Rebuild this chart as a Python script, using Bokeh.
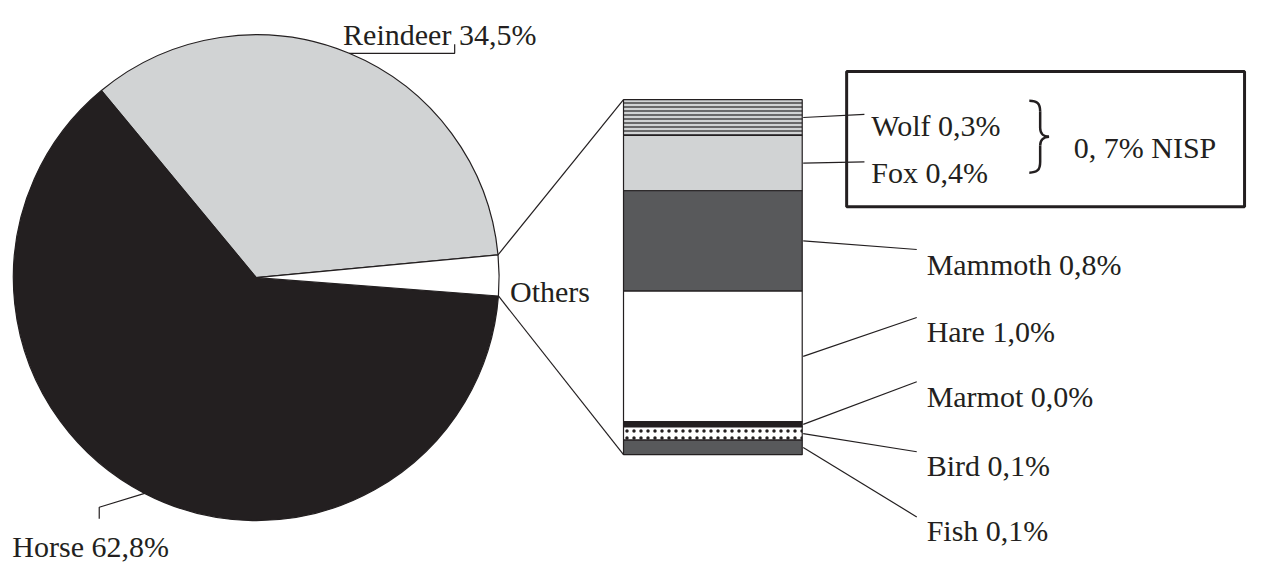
import numpy as np
from bokeh.plotting import figure
from bokeh.models import Range1d, ColumnDataSource
from bokeh.embed import file_html
from bokeh.resources import INLINE
from bokeh.core.properties import value

# ---------------- data ----------------
pie_labels = ["Reindeer", "Horse", "Others"]
pie_values = [34.5, 62.8, 2.7]
pie_texts = ["Reindeer 34,5%", "Horse 62,8%", "Others"]

bar_labels = ["Wolf", "Fox", "Mammoth", "Hare", "Marmot", "Bird", "Fish"]
bar_values = [0.27, 0.42, 0.76, 0.99, 0.04, 0.10, 0.11]
bar_texts = ["Wolf 0,3%", "Fox 0,4%", "Mammoth 0,8%", "Hare 1,0%",
             "Marmot 0,0%", "Bird 0,1%", "Fish 0,1%"]
group_text = "0, 7% NISP"

# ---------------- styles ----------------
INK = "#231f20"
FONT = value("Liberation Serif")
FS = "30px"
pie_colors = ["#d1d3d4", INK, "#ffffff"]
bar_colors = ["#d1d3d4", "#d1d3d4", "#58595b", "#ffffff", INK, "#ffffff", "#58595b"]
bar_hatch = ["horizontal_line", " ", " ", " ", " ", "dot", " "]
bar_hscale = [4, 1, 1, 1, 1, 7, 1]
bar_hweight = [1.6, 1, 1, 1, 1, 2.2, 1]
bar_hcolor = ["#4d4d4f", INK, INK, INK, INK, INK, INK]

W, H = 1248, 567
RW, RH = 1264, 583  # layout coordinate space


def Y(ys):
    """layout y (from top) -> data y"""
    return RH - ys


p = figure(width=W, height=H, x_range=Range1d(0, RW), y_range=Range1d(0, RH),
           output_backend="svg", toolbar_location=None, min_border=0,
           x_axis_type=None, y_axis_type=None)
p.grid.visible = False
p.outline_line_color = None
p.background_fill_color = "white"

# ---------------- pie ----------------
cx, cy, r = 259, Y(285), 246
start0 = 5.4
vals = np.array(pie_values, dtype=float)
frac = vals / vals.sum()
ends = start0 + 360 * np.cumsum(frac)
starts = ends - 360 * frac
pie_src = ColumnDataSource(dict(label=pie_labels, start=np.radians(starts),
                                end=np.radians(ends), color=pie_colors))
p.wedge(x=cx, y=cy, radius=r, start_angle="start", end_angle="end",
        direction="anticlock", fill_color="color", line_color=INK,
        line_width=1.2, source=pie_src)

sx = W / RW
sy = H / RH


def pie_pt(deg):
    # radius is measured along x; convert to data units in y for the point
    a = np.radians(deg)
    return cx + r * np.cos(a), cy + r * sx / sy * np.sin(a)


# Reindeer leader
mid_r = (starts[0] + ends[0]) / 2
x0, y0 = pie_pt(mid_r)
p.line([x0, 460, 460], [y0, y0, Y(45)], line_color=INK, line_width=1.2)
p.text([347], [Y(35)], text=[pie_texts[0]], text_font=FONT, text_font_size=FS,
       text_color=INK, text_baseline="alphabetic", text_align="left")

# Horse leader
mid_h = (starts[1] + ends[1]) / 2
x0, y0 = pie_pt(mid_h)
p.line([x0, 100, 100], [y0, Y(521), Y(533)], line_color=INK, line_width=1.2)
p.text([12], [Y(561)], text=[pie_texts[1]], text_font=FONT, text_font_size=FS,
       text_color=INK, text_baseline="alphabetic", text_align="left")

# Others label
p.text([516], [Y(299)], text=[pie_texts[2]], text_font=FONT, text_font_size=FS,
       text_color=INK, text_baseline="alphabetic", text_align="left")

# ---------------- stacked bar ----------------
bv = np.array(bar_values, dtype=float)
S = bv.sum()
bar_left, bar_right = 631, 812
bar_top_px, bar_bot_px = 102, 467
k = (Y(bar_top_px) - Y(bar_bot_px)) / S  # data units per %
lo = -(Y(bar_bot_px) - 0) / k
hi = S + (RH - Y(bar_top_px)) / k
p.extra_y_ranges = {"bar": Range1d(lo, hi)}

tops = S - np.concatenate([[0], np.cumsum(bv)[:-1]])
bottoms = tops - bv
bar_src = ColumnDataSource(dict(label=bar_labels, top=tops, bottom=bottoms,
                                color=bar_colors, hatch=bar_hatch,
                                hscale=bar_hscale, hweight=bar_hweight,
                                hcolor=bar_hcolor))
p.vbar(x=(bar_left + bar_right) / 2, width=bar_right - bar_left, top="top",
       bottom="bottom", fill_color="color", hatch_pattern="hatch",
       hatch_scale="hscale", hatch_weight="hweight", hatch_color="hcolor",
       line_color=INK, line_width=1.2, y_range_name="bar", source=bar_src)


def bar_y(v):
    return Y(bar_bot_px) + k * v


# connecting lines pie -> bar
xa, ya = pie_pt(starts[2] + 360 * frac[2])
xb, yb = pie_pt(starts[2])
p.line([xa, bar_left], [ya, bar_y(S)], line_color=INK, line_width=1.2)
p.line([xb, bar_left], [yb, bar_y(0)], line_color=INK, line_width=1.2)

# leaders and labels for the bar
lead_end_x = [875, 875, 928, 928, 928, 928, 928]
lead_end_y = [117, 166, 256, 326, 392, 464, 531]
text_x = [882, 882, 938, 938, 938, 938, 938]
text_y = [129, 177, 271, 340, 407, 478, 545]
mids = (tops + bottoms) / 2
for i in range(len(bar_labels)):
    p.line([bar_right + 1, lead_end_x[i]], [bar_y(mids[i]), Y(lead_end_y[i])],
           line_color=INK, line_width=1.2)
p.text(text_x, [Y(t) for t in text_y], text=bar_texts, text_font=FONT,
       text_font_size=FS, text_color=INK, text_baseline="alphabetic",
       text_align="left")

# box around Wolf / Fox
p.quad(left=[857], right=[1260], top=[Y(73)], bottom=[Y(212)], fill_color=None,
       line_color=INK, line_width=3)

# brace
segs = [
    ((1042, 103), (1050, 103), (1053, 106), (1053, 114)),
    ((1053, 114), (1053, 120), (1053, 125), (1053, 131)),
    ((1053, 131), (1053, 137), (1057, 140), (1062, 140)),
    ((1062, 140), (1057, 140), (1053, 143), (1053, 149)),
    ((1053, 149), (1053, 155), (1053, 160), (1053, 166)),
    ((1053, 166), (1053, 174), (1050, 177), (1042, 177)),
]
p.bezier(x0=[s[0][0] for s in segs], y0=[Y(s[0][1]) for s in segs],
         cx0=[s[1][0] for s in segs], cy0=[Y(s[1][1]) for s in segs],
         cx1=[s[2][0] for s in segs], cy1=[Y(s[2][1]) for s in segs],
         x1=[s[3][0] for s in segs], y1=[Y(s[3][1]) for s in segs],
         line_color=INK, line_width=2.5)

p.text([1087], [Y(151)], text=[group_text], text_font=FONT, text_font_size=FS,
       text_color=INK, text_baseline="alphabetic", text_align="left")

open("out.html", "w").write(file_html(p, INLINE))
